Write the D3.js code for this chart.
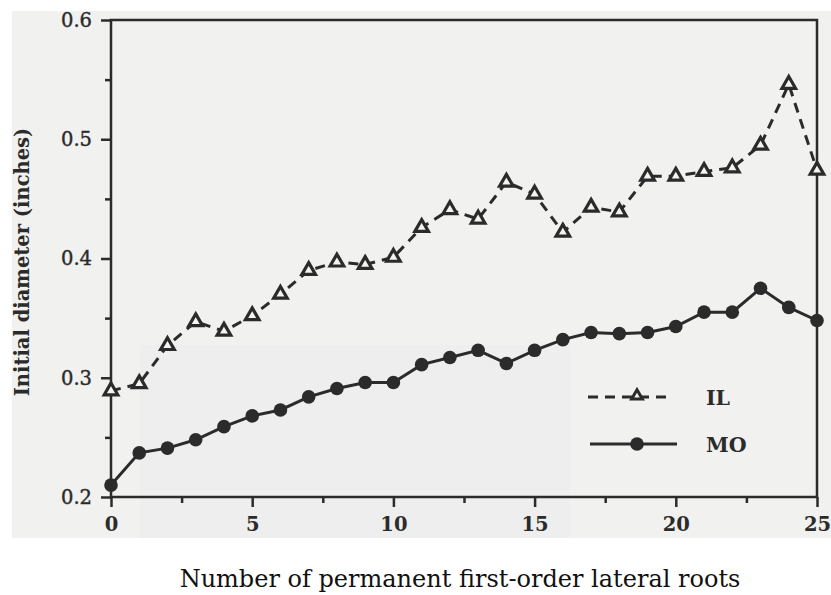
<!DOCTYPE html>
<html><head><meta charset="utf-8">
<script src="https://cdn.jsdelivr.net/npm/d3@7"></script>
<style>body{margin:0;background:#fff}svg{display:block}</style>
</head><body>
<svg id="c" width="831" height="595"></svg>
<script>
const roots = d3.range(0, 26);
const ilValues = [0.289,0.295,0.327,0.347,0.339,0.352,0.370,0.390,0.397,0.395,0.401,0.426,0.441,0.433,0.464,0.454,0.422,0.443,0.439,0.469,0.469,0.473,0.476,0.495,0.546,0.474];
const moValues = [0.210,0.237,0.241,0.248,0.259,0.268,0.273,0.284,0.291,0.296,0.296,0.311,0.317,0.323,0.312,0.323,0.332,0.338,0.337,0.338,0.343,0.355,0.355,0.375,0.359,0.348];
const xTicks = [0,5,10,15,20,25];
const yTicks = [0.2,0.3,0.4,0.5,0.6];
const seriesNames = ["IL","MO"];

const svg = d3.select("#c");
const ink = "#2b2b2b";
const L=111, R=817, T=20, B=497;
const x = d3.scaleLinear().domain([0,25]).range([L,R]);
const y = d3.scaleLinear().domain([0.2,0.6]).range([B,T]);

// scanned page background
svg.append("rect").attr("x",12).attr("y",11).attr("width",819).attr("height",527).attr("fill","#f1f1ef");
svg.append("rect").attr("x",140).attr("y",345).attr("width",430).attr("height",193).attr("fill","#e6e8ea").attr("opacity",0.35);

// frame
svg.append("rect").attr("x",L).attr("y",T).attr("width",R-L).attr("height",B-T)
  .attr("fill","none").attr("stroke",ink).attr("stroke-width",2.5);

const serif = "'DejaVu Serif', serif";
// y axis
const yAx = svg.append("g").attr("transform",`translate(${L},0)`)
  .call(d3.axisLeft(y).tickValues(yTicks).tickSize(10).tickFormat(d3.format(".1f")));
yAx.select(".domain").remove();
yAx.selectAll("line").attr("stroke",ink).attr("stroke-width",2.5);
yAx.selectAll("text").attr("font-family",serif).attr("font-size",19.5).attr("fill",ink).attr("x",-19)
  .attr("stroke",ink).attr("stroke-width",0.4);
svg.append("g").attr("transform",`translate(${L},0)`)
  .call(d3.axisLeft(y).tickValues([0.25,0.35,0.45,0.55]).tickSize(6).tickFormat(""))
  .call(g=>{g.select(".domain").remove();g.selectAll("line").attr("stroke",ink).attr("stroke-width",2.5);});

// x axis
const xAx = svg.append("g").attr("transform",`translate(0,${B})`)
  .call(d3.axisBottom(x).tickValues(xTicks).tickSize(10).tickFormat(d3.format("d")));
xAx.select(".domain").remove();
xAx.selectAll("line").attr("stroke",ink).attr("stroke-width",2.5);
xAx.selectAll("text").attr("font-family",serif).attr("font-size",19.5).attr("font-weight","bold").attr("fill",ink).attr("y",20);
svg.append("g").attr("transform",`translate(0,${B})`)
  .call(d3.axisBottom(x).tickValues([2.5,7.5,12.5,17.5,22.5]).tickSize(6).tickFormat(""))
  .call(g=>{g.select(".domain").remove();g.selectAll("line").attr("stroke",ink).attr("stroke-width",2.5);});

// titles
svg.append("text").attr("transform","translate(29,262) rotate(-90)").attr("text-anchor","middle")
  .attr("font-family",serif).attr("font-weight","bold").attr("font-size",19.5).attr("fill",ink)
  .text("Initial diameter (inches)");
svg.append("text").attr("x",460).attr("y",587).attr("text-anchor","middle")
  .attr("font-family",serif).attr("font-size",24).attr("fill","#111")
  .text("Number of permanent first-order lateral roots");

// lines
const line = d3.line().x((d,i)=>x(roots[i])).y(d=>y(d));
svg.append("path").datum(ilValues).attr("d",line).attr("fill","none").attr("stroke",ink)
  .attr("stroke-width",3).attr("stroke-dasharray","10,7");
svg.append("path").datum(moValues).attr("d",line).attr("fill","none").attr("stroke",ink)
  .attr("stroke-width",3);

const tri = d3.symbol().type(d3.symbolTriangle).size(80);
svg.append("g").selectAll("path").data(ilValues).join("path")
  .attr("d",tri).attr("transform",(d,i)=>`translate(${x(roots[i])},${y(d)})`)
  .attr("fill","#f4f4f2").attr("stroke",ink).attr("stroke-width",3.2);
svg.append("g").selectAll("circle").data(moValues).join("circle")
  .attr("cx",(d,i)=>x(roots[i])).attr("cy",d=>y(d)).attr("r",6.8).attr("fill",ink);

// legend
const lg = svg.append("g");
lg.append("line").attr("x1",588).attr("x2",668).attr("y1",397).attr("y2",397)
  .attr("stroke",ink).attr("stroke-width",3).attr("stroke-dasharray","10,7");
lg.append("path").attr("d",d3.symbol().type(d3.symbolTriangle).size(50)).attr("transform","translate(637,396)")
  .attr("fill","#f4f4f2").attr("stroke",ink).attr("stroke-width",3);
lg.append("line").attr("x1",590).attr("x2",677).attr("y1",444).attr("y2",444)
  .attr("stroke",ink).attr("stroke-width",3);
lg.append("circle").attr("cx",637).attr("cy",444).attr("r",6.8).attr("fill",ink);
lg.selectAll("text").data(seriesNames).join("text")
  .attr("x",706).attr("y",(d,i)=>405+i*47)
  .attr("font-family",serif).attr("font-weight","bold").attr("font-size",20.5).attr("fill",ink)
  .text(d=>d);
</script>
</body></html>
